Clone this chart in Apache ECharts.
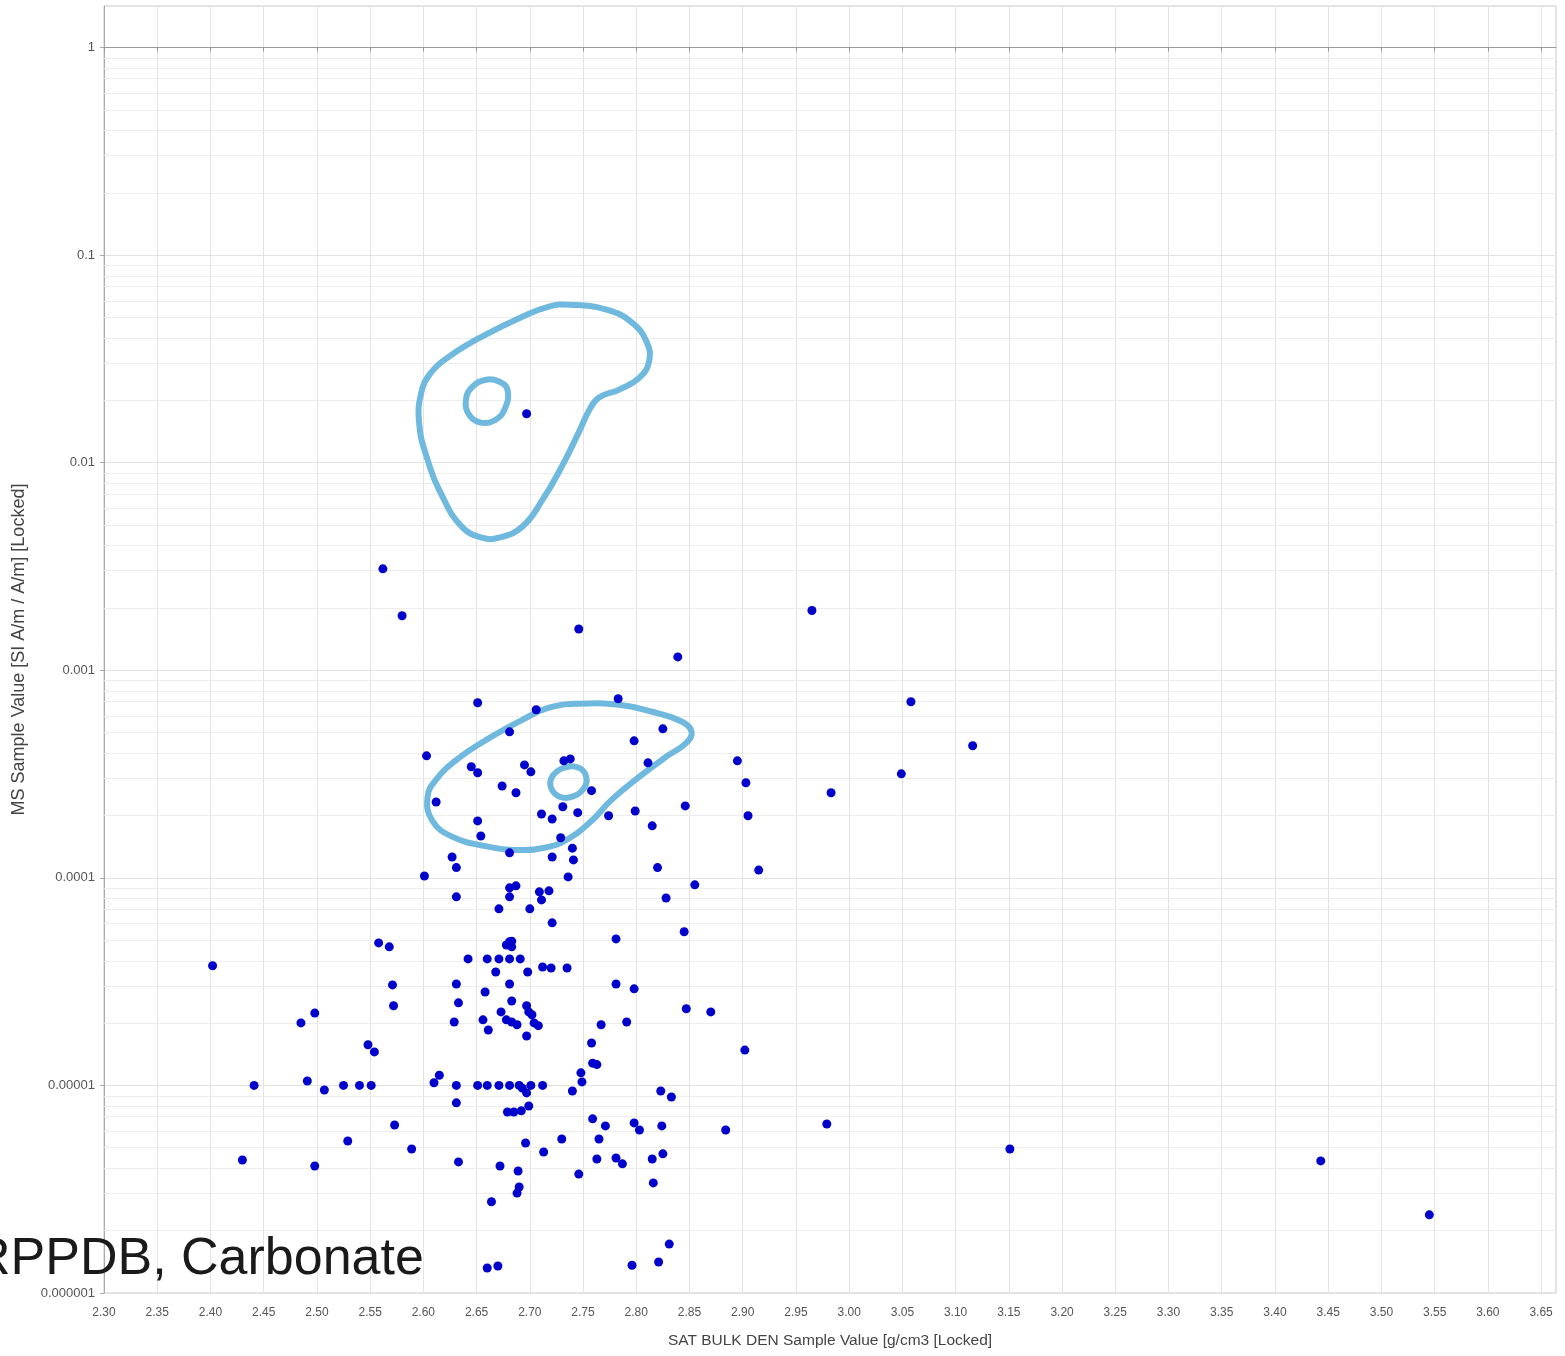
<!DOCTYPE html>
<html><head><meta charset="utf-8">
<script src="https://cdn.jsdelivr.net/npm/echarts@6/dist/echarts.min.js"></script>
<style>html,body{margin:0;padding:0;background:#fff}#c{width:1565px;height:1356px}</style>
</head><body><div id="c"></div>
<script>
// Sample values: SAT BULK DEN (g/cm3)
const bulkDensity = [
2.697,2.562,2.580,2.746,2.965,2.839,3.058,3.116,3.049,2.983,
2.651,2.706,2.783,2.825,2.798,2.603,2.645,2.651,2.681,2.695,
2.701,2.732,2.738,2.811,2.895,2.903,2.674,2.687,2.612,2.758,
2.731,2.745,2.711,2.721,2.774,2.799,2.846,2.905,2.651,2.815,
2.654,2.729,2.681,2.740,2.741,2.721,2.627,2.631,2.820,2.915,
2.601,2.736,2.855,2.631,2.828,2.681,2.687,2.681,2.709,2.718,
2.711,2.671,2.700,2.721,2.781,2.845,2.681,2.683,2.683,2.678,
2.642,2.660,2.671,2.681,2.691,2.712,2.720,2.735,2.668,2.698,
2.631,2.658,2.681,2.781,2.798,2.633,2.683,2.847,2.870,2.697,
2.699,2.629,2.656,2.661,2.673,2.678,2.683,2.688,2.702,2.704,
2.708,2.697,2.767,2.791,2.758,2.902,2.759,2.763,2.615,2.610,
2.631,2.651,2.660,2.671,2.681,2.690,2.693,2.697,2.701,2.712,
2.748,2.749,2.740,2.631,2.699,2.679,2.685,2.692,2.823,2.833,
2.759,2.771,2.798,2.803,2.824,2.884,2.765,2.730,2.696,2.589,
2.713,2.825,2.815,2.763,2.781,2.787,2.633,2.672,2.689,2.690,
2.688,2.746,2.816,2.664,2.831,2.796,2.821,2.660,2.670,
2.402,2.441,2.430,2.485,2.498,2.491,2.507,2.498,2.525,2.540,
2.551,2.529,2.548,2.554,2.558,2.568,2.571,2.572,2.573,
2.979,3.151,3.443,3.545
];
// MS sample values (SI A/m / A/m)
const msValue = [
1.72e-2,3.08e-3,1.83e-3,1.58e-3,1.94e-3,1.16e-3,7.05e-4,4.33e-4,3.17e-4,2.57e-4,
6.97e-4,6.45e-4,7.29e-4,5.22e-4,4.57e-4,3.87e-4,3.43e-4,3.21e-4,5.05e-4,3.50e-4,
3.24e-4,3.66e-4,3.74e-4,3.58e-4,3.66e-4,2.87e-4,2.77e-4,2.57e-4,2.32e-4,2.63e-4,
2.20e-4,2.06e-4,2.03e-4,1.92e-4,1.99e-4,2.10e-4,2.22e-4,1.99e-4,1.88e-4,1.78e-4,
1.59e-4,1.56e-4,1.32e-4,1.39e-4,1.22e-4,1.26e-4,1.26e-4,1.12e-4,1.12e-4,1.09e-4,
1.02e-4,1.01e-4,9.25e-5,8.10e-5,8.00e-5,8.95e-5,9.15e-5,8.10e-5,8.56e-5,8.66e-5,
7.83e-5,7.09e-5,7.09e-5,6.07e-5,5.08e-5,5.50e-5,4.92e-5,4.95e-5,4.65e-5,4.75e-5,
4.07e-5,4.07e-5,4.07e-5,4.07e-5,4.07e-5,3.72e-5,3.68e-5,3.68e-5,3.52e-5,3.52e-5,
3.08e-5,2.82e-5,3.08e-5,3.08e-5,2.92e-5,2.50e-5,2.55e-5,2.34e-5,2.26e-5,2.42e-5,
2.26e-5,2.02e-5,2.07e-5,1.85e-5,2.26e-5,2.07e-5,2.02e-5,1.96e-5,2.19e-5,2.00e-5,
1.94e-5,1.73e-5,1.96e-5,2.02e-5,1.60e-5,1.48e-5,1.28e-5,1.26e-5,1.12e-5,1.03e-5,
1.00e-5,1.00e-5,1.00e-5,1.00e-5,1.00e-5,1.00e-5,9.7e-6,9.2e-6,1.00e-5,1.00e-5,
1.15e-5,1.04e-5,9.4e-6,8.24e-6,7.96e-6,7.45e-6,7.45e-6,7.54e-6,9.4e-6,8.8e-6,
6.9e-6,6.38e-6,6.6e-6,6.1e-6,6.38e-6,6.1e-6,5.52e-6,5.52e-6,5.28e-6,4.94e-6,
4.78e-6,4.68e-6,4.42e-6,4.42e-6,4.47e-6,4.19e-6,4.28e-6,4.09e-6,3.87e-6,3.24e-6,
3.03e-6,3.74e-6,3.39e-6,2.75e-6,1.72e-6,1.36e-6,1.41e-6,1.32e-6,1.35e-6,
3.77e-5,1.00e-5,4.37e-6,2.00e-5,2.23e-5,1.05e-5,9.5e-6,4.09e-6,1.00e-5,1.00e-5,
1.00e-5,5.4e-6,1.57e-5,1.45e-5,4.86e-5,4.65e-5,3.05e-5,2.42e-5,6.45e-6,
6.52e-6,4.94e-6,4.33e-6,2.38e-6
];
// Density contours: [density, MS] (closed rings)
const contourHighOuter = [[2.737,5.77e-2],[2.772,5.46e-2],[2.796,4.73e-2],[2.810,3.79e-2],[2.812,3.07e-2],[2.803,2.57e-2],[2.784,2.25e-2],[2.765,2.06e-2],[2.756,1.80e-2],[2.746,1.40e-2],[2.730,9.57e-3],[2.712,6.63e-3],[2.693,4.92e-3],[2.671,4.35e-3],[2.655,4.35e-3],[2.636,4.92e-3],[2.618,6.86e-3],[2.603,1.07e-2],[2.596,1.56e-2],[2.598,2.17e-2],[2.607,2.71e-2],[2.624,3.24e-2],[2.655,4.05e-2],[2.693,5.05e-2],[2.718,5.65e-2]];
const contourHighInner = [[2.679,2.25e-2],[2.671,2.46e-2],[2.659,2.51e-2],[2.646,2.32e-2],[2.640,2.01e-2],[2.643,1.70e-2],[2.654,1.56e-2],[2.668,1.61e-2],[2.677,1.84e-2]];
const contourLowOuter = [[2.746,6.9e-4],[2.784,6.82e-4],[2.815,6.31e-4],[2.843,5.65e-4],[2.852,5.05e-4],[2.847,4.47e-4],[2.828,3.83e-4],[2.803,3.07e-4],[2.777,2.38e-4],[2.756,1.84e-4],[2.734,1.52e-4],[2.715,1.40e-4],[2.693,1.36e-4],[2.662,1.41e-4],[2.627,1.58e-4],[2.608,1.90e-4],[2.604,2.46e-4],[2.612,2.97e-4],[2.631,3.70e-4],[2.659,4.62e-4],[2.693,5.77e-4],[2.718,6.6e-4]];
const contourLowInner = [[2.746,3.39e-4],[2.753,3.07e-4],[2.751,2.71e-4],[2.740,2.46e-4],[2.728,2.46e-4],[2.720,2.71e-4],[2.721,3.07e-4],[2.732,3.39e-4]];
// Axis ticks
const yTickLabels = ['0.000001','0.00001','0.0001','0.001','0.01','0.1','1'];
const yMinorMultipliers = [2,3,4,5,6,7,8,9];
const yDecades = [-6,-5,-4,-3,-2,-1];

const lg = v => Math.log10(v);
const points = bulkDensity.map((x,i) => [x, lg(msValue[i])]);
const minorLines = [];
yDecades.forEach(d => yMinorMultipliers.forEach(m => minorLines.push({yAxis: d + lg(m)})));

const font = '"Liberation Sans", Arial, sans-serif';
const contourSeries = [contourHighOuter, contourHighInner, contourLowOuter, contourLowInner].map(c => ({
  type:'custom', silent:true, z:3, clip:true,
  data:[[c[0][0], lg(c[0][1])]],
  renderItem: (params, api) => ({
    type:'polygon',
    shape:{points: c.map(p => api.coord([p[0], lg(p[1])])), smooth:0.45},
    style:{fill:'none', stroke:'#6fb8de', lineWidth:6}
  })
}));

const chart = echarts.init(document.getElementById('c'), null, {renderer:'canvas'});
chart.setOption({
  animation:false,
  backgroundColor:'#fff',
  grid:{left:104, right:9, top:6, bottom:63, show:true, borderColor:'#c8c8c8', borderWidth:1},
  xAxis:{
    type:'value', min:2.30, max:3.664, interval:0.05,
    name:'SAT BULK DEN Sample Value [g/cm3 [Locked]', nameLocation:'middle', nameGap:40,
    nameTextStyle:{fontFamily:font, fontSize:15.5, color:'#444'},
    axisLine:{show:true, lineStyle:{color:'#999'}},
    axisTick:{show:true, length:4, lineStyle:{color:'#999'}},
    axisLabel:{fontFamily:font, fontSize:12, color:'#555', margin:14, showMaxLabel:false,
      formatter: v => v.toFixed(2)},
    splitLine:{show:true, lineStyle:{color:'#e4e4e4'}}
  },
  yAxis:{
    type:'value', min:-6, max:0.2, interval:1,
    name:'MS Sample Value [SI A/m / A/m] [Locked]', nameLocation:'middle', nameGap:76,
    nameTextStyle:{fontFamily:font, fontSize:18, color:'#444'},
    axisLine:{show:true, lineStyle:{color:'#aaa'}},
    axisTick:{show:true, length:4, lineStyle:{color:'#aaa'}},
    axisLabel:{fontFamily:font, fontSize:13, color:'#555', margin:9, showMaxLabel:false,
      formatter: v => Math.abs(v-Math.round(v))<1e-6 ? yTickLabels[Math.round(v)+6] : ''},
    splitLine:{show:true, lineStyle:{color:'#e2e2e2'}}
  },
  graphic:[{type:'text', left:-27, top:1234, z:100,
    style:{text:'RPPDB, Carbonate', font:'52px "Liberation Sans", Arial, sans-serif', fill:'#1a1a1a'}}],
  series:[
    {type:'scatter', data:[], silent:true, z:1,
     markLine:{silent:true, z:1, symbol:['none','none'], label:{show:false}, animation:false,
       lineStyle:{color:'#ededed', type:'solid', width:1}, data:minorLines}},
    ...contourSeries,
    {type:'scatter', data:points, symbolSize:9, itemStyle:{color:'#0000cc', opacity:1}, z:5}
  ]
});
</script></body></html>
